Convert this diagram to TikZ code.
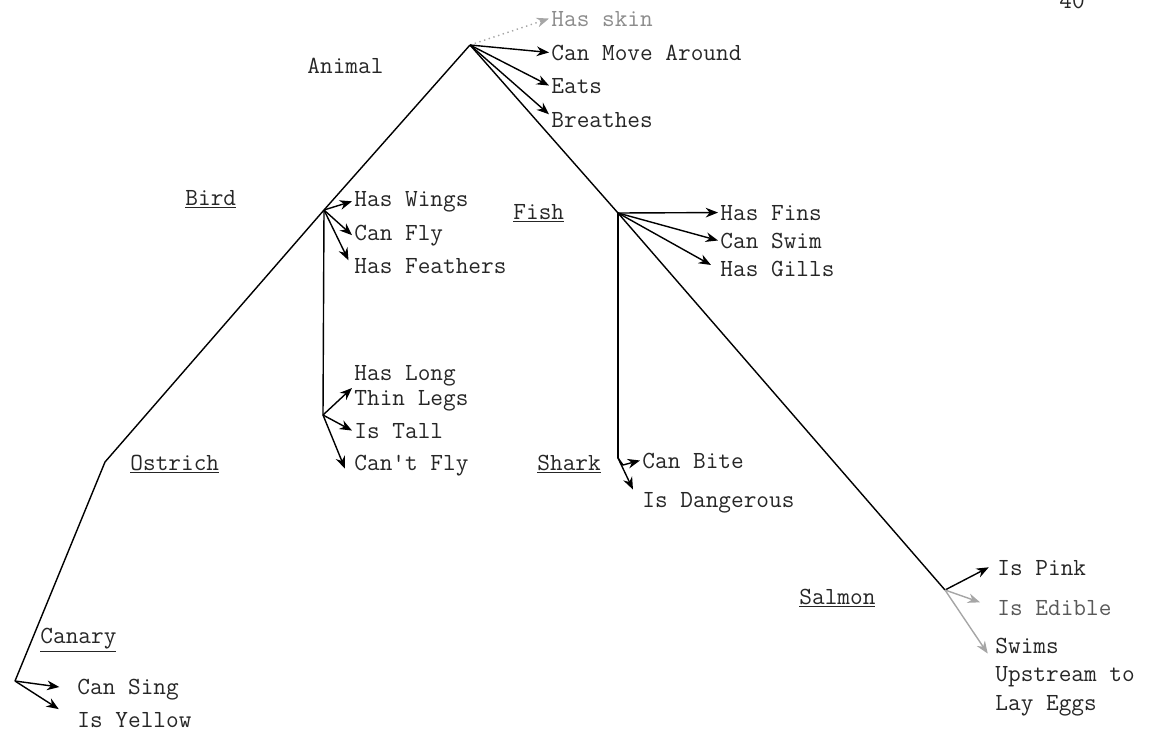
\documentclass[tikz,border=0pt]{standalone}
\usepackage{fontspec}
\usetikzlibrary{arrows.meta}

\begin{document}
\begin{tikzpicture}[x=0.02cm,y=-0.02cm,>={Stealth[length=7pt,width=5.5pt]}]
\tikzstyle{every path}=[thick]

\tikzstyle{prop}=[anchor=base west,inner sep=1pt,align=left,text=black!85,
  font=\fontsize{14}{16}\selectfont\ttfamily]
\tikzstyle{faint}=[draw=black!35]

\useasboundingbox (0,0) rectangle (1153,734);

%% Branch points of the net
\coordinate (animal) at (470,45);
\coordinate (bird) at (324,210);
\coordinate (legs) at (323,415);
\coordinate (ostrich) at (105,462);
\coordinate (canary) at (15,681);
\coordinate (fish) at (618,213);
\coordinate (shark) at (618,458);
\coordinate (salmon) at (945,590);

%% Class names
\node [prop] (animaltext) at (305,73) {Animal};
\node [prop] (birdtext) at (183,205) {\underline{Bird}};
\node [prop] (fishtext) at (511,219) {\underline{Fish}};
\node [prop] (ostrichtext) at (128,470) {\underline{Ostrich}};
\node [prop] (sharktext) at (535,470) {\underline{Shark}};
\node [prop] (canarytext) at (38,643) {\underline{Canary}};
\node [prop] (salmontext) at (797,604) {\underline{Salmon}};
\node [prop] (page) at (1057,8) {40};

%% Properties
\node [prop,text=black!45] (skin) at (549,26) {Has skin};
\node [prop] (move) at (549,60) {Can Move Around};
\node [prop] (eats) at (549,93) {Eats};
\node [prop] (breathes) at (549,127) {Breathes};

\node [prop] (wings) at (352,206) {Has Wings};
\node [prop] (fly) at (352,240) {Can Fly};
\node [prop] (feathers) at (352,273) {Has Feathers};

% multi-line nodes sit on their last line
\node [prop] (thinlegs) at (352,405) {Has Long\\[-2pt]Thin Legs};
\node [prop] (tall) at (352,438) {Is Tall};
\node [prop] (cantfly) at (352,470) {Can't Fly};

\node [prop] (fins) at (718,220) {Has Fins};
\node [prop] (swim) at (718,248) {Can Swim};
\node [prop] (gills) at (718,276) {Has Gills};

\node [prop] (bite) at (640,468) {Can Bite};
\node [prop] (dangerous) at (640,507) {Is Dangerous};

\node [prop] (pink) at (995,575) {Is Pink};
\node [prop,text=black!65] (edible) at (995,615) {Is Edible};
\node [prop] (upstream) at (993,710) {Swims\\Upstream to\\Lay Eggs};

\node [prop] (sing) at (75,694) {Can Sing};
\node [prop] (yellow) at (75,727) {Is Yellow};

%% The is-a links
\draw (animal) -- (bird) -- (ostrich) -- (canary);
\draw (animal) -- (fish) -- (salmon);
\draw (bird) -- (legs);
\draw (fish) -- (shark);

%% Property arrows
\draw[->,faint,dotted] (animal) -- (skin.west);
\draw[->] (animal) -- (move.west);
\draw[->] (animal) -- (eats.west);
\draw[->] (animal) -- ([yshift=3pt]breathes.west);

\draw[->] (bird) -- (wings.west);
\draw[->] (bird) -- (fly.west);
\draw[->] (bird) -- ([xshift=-2pt,yshift=3pt]feathers.west);

\draw[->] (legs) -- (thinlegs.west);
\draw[->] (legs) -- (tall.west);
\draw[->] (legs) -- ([xshift=-4pt,yshift=-2pt]cantfly.west);

\draw[->] (fish) -- (fins.west);
\draw[->] (fish) -- (swim.west);
\draw[->] (fish) -- ([xshift=-4pt,yshift=2pt]gills.west);

\draw[->] (shark) -- ++(5,7) -- (bite.west);
\draw[->] (shark) -- ([xshift=-4pt]dangerous.north west);

\draw[->,shorten >=4pt] (salmon) -- ([yshift=2pt]pink.west);
\draw[->,faint,shorten >=9pt] (salmon) -- (edible.west);
\draw[->,faint] (salmon) -- ([xshift=-3pt,yshift=-10pt]upstream.north west);

\draw[->,shorten >=9pt] (canary) -- (sing.west);
\draw[->,shorten >=11pt] (canary) -- (yellow.west);
\end{tikzpicture}
\end{document}
